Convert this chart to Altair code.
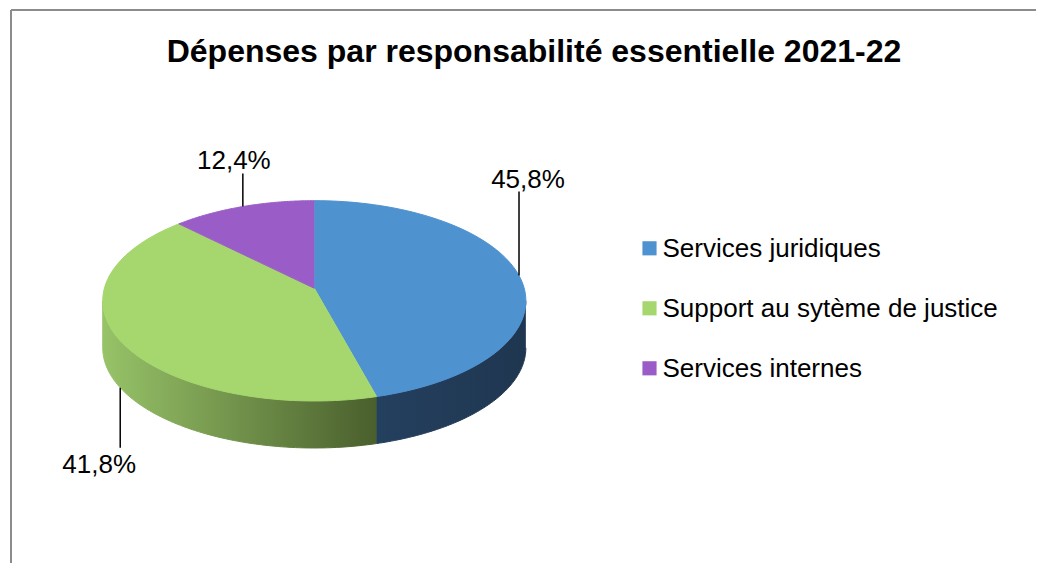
import altair as alt
import pandas as pd

# ---------------- data ----------------
TITLE = "Dépenses par responsabilité essentielle 2021-22"
categories = ["Services juridiques", "Support au sytème de justice", "Services internes"]
values = [45.8, 41.8, 12.4]

# ---------------- styles ----------------
top_colors = ["#4E92D0", "#A5D76E", "#9A5CC6"]
side_colors = [["#24405F", "#1F3650"], ["#97C368", "#4A5F2D"], ["#8A50B5", "#4A2A66"]]
# label layout per slice: leader length, text dx, text gap from leader end, attach to bottom rim
label_layout = [(-84, 9, -4, 0), (60, -21, 25, 1), (-33, -9, -5, 0)]

FONT = "Liberation Sans"
CX, CY, RX, RY, K, DEPTH, N = 314.3, 288.3, 209.9, 98.6, 0.125, 47, 90
W, H = 1028, 555

df = pd.DataFrame({"category": categories, "value": values,
                   "order": list(range(len(categories)))})

xs = alt.Scale(domain=[8, 8 + W], nice=False, zero=False)
ys = alt.Scale(domain=[8, 8 + H], nice=False, zero=False, reverse=True)


def proj_x(t, r="1"):
    return f"{CX} + {RX}*({r})*sin({t})/(1 + {K}*cos({t}))"


def proj_y(t, r="1"):
    return f"{CY} - {RY}*({r})*cos({t})/(1 + {K}*cos({t}))"


def grad(c0, c1):
    return alt.LinearGradient(gradient="linear",
                              stops=[alt.GradientStop(color=c0, offset=0),
                                     alt.GradientStop(color=c1, offset=1)],
                              x1=0, x2=1, y1=0, y2=0)


base = (alt.Chart(df)
        .transform_joinaggregate(total="sum(value)")
        .transform_window(cum="sum(value)", sort=[alt.SortField("order")])
        .transform_calculate(a0="2*PI*(datum.cum - datum.value)/datum.total")
        .transform_calculate(a1="2*PI*datum.cum/datum.total")
        .transform_calculate(mid="(datum.a0 + datum.a1)/2"))

X = lambda f: alt.X(f, scale=xs, axis=None)
Y = lambda f: alt.Y(f, scale=ys, axis=None)

layers = []

# border of chart area
one = alt.Chart(pd.DataFrame({"a": [0]}))
layers.append(one.mark_rule(color="#8C8C8C", strokeWidth=2).encode(
    x=alt.value(3), y=alt.value(2), y2=alt.value(H)))
layers.append(one.mark_rule(color="#8C8C8C", strokeWidth=2).encode(
    x=alt.value(3), x2=alt.value(W), y=alt.value(2)))

# sides of the pie (visible front wall)
for i, cat in enumerate(categories):
    g = grad(*side_colors[i])
    side = (base.transform_filter(alt.datum.category == cat)
            .transform_calculate(s0=f"max(datum.a0, acos(-{K}))")
            .transform_calculate(s1=f"min(datum.a1, 2*PI - acos(-{K}))")
            .transform_filter("datum.s1 > datum.s0")
            .transform_calculate(k=f"sequence(0, {2 * N + 2})")
            .transform_flatten(["k"])
            .transform_calculate(kk=f"datum.k <= {N} ? datum.k : {2 * N + 1} - datum.k")
            .transform_calculate(t=f"datum.s0 + (datum.s1 - datum.s0)*datum.kk/{N}")
            .transform_calculate(px=proj_x("datum.t"))
            .transform_calculate(py=proj_y("datum.t") + f" + (datum.k > {N} ? {DEPTH} : 0)")
            .mark_line(fill=g, stroke=g, strokeWidth=1, interpolate="linear")
            .encode(x=X("px:Q"), y=Y("py:Q"), order="k:Q"))
    layers.append(side)

# top faces
for i, cat in enumerate(categories):
    top = (base.transform_filter(alt.datum.category == cat)
           .transform_calculate(k=f"sequence(-1, {N + 1})")
           .transform_flatten(["k"])
           .transform_calculate(t=f"datum.a0 + (datum.a1 - datum.a0)*max(datum.k, 0)/{N}")
           .transform_calculate(r="datum.k < 0 ? 0 : 1")
           .transform_calculate(px=proj_x("datum.t", "datum.r"))
           .transform_calculate(py=proj_y("datum.t", "datum.r"))
           .mark_line(fill=top_colors[i], stroke=top_colors[i], strokeWidth=1, interpolate="linear")
           .encode(x=X("px:Q"), y=Y("py:Q"), order="k:Q"))
    layers.append(top)

# leader lines and data labels
for i, cat in enumerate(categories):
    lead, dx, gap, bottom = label_layout[i]
    lab = (base.transform_filter(alt.datum.category == cat)
           .transform_calculate(ax=proj_x("datum.mid"))
           .transform_calculate(ay=proj_y("datum.mid") + f" + {bottom * DEPTH}")
           .transform_calculate(ay2=f"datum.ay + {lead}")
           .transform_calculate(tx=f"datum.ax + {dx}")
           .transform_calculate(ty=f"datum.ay2 + {gap}")
           .transform_calculate(label="replace(format(datum.value, '.1f'), '.', ',') + '%'"))
    layers.append(lab.mark_rule(color="#000000", strokeWidth=1.5).encode(
        x=X("ax:Q"), y=Y("ay:Q"), y2="ay2:Q"))
    layers.append(lab.mark_text(font=FONT, fontSize=26, align="center",
                                baseline="alphabetic", color="#000000").encode(
        x=X("tx:Q"), y=Y("ty:Q"), text="label:N"))

# legend
leg = base.transform_calculate(ly="248.3 + 60*datum.order").transform_calculate(lb="datum.ly + 8.6")
layers.append(leg.mark_square(size=200, opacity=1, filled=True).encode(
    x=alt.value(641.5), y=Y("ly:Q"),
    color=alt.Color("category:N", scale=alt.Scale(domain=categories, range=top_colors), legend=None)))
layers.append(leg.mark_text(font=FONT, fontSize=26, align="left", baseline="alphabetic",
                            color="#000000").encode(
    x=alt.value(654.5), y=Y("lb:Q"), text="category:N"))

# title
layers.append(one.mark_text(font=FONT, fontSize=32, fontWeight="bold", align="center",
                            baseline="alphabetic", color="#000000").encode(
    x=alt.value(526), y=alt.value(54), text=alt.value(TITLE)))

chart = (alt.layer(*layers)
         .properties(width=W, height=H, padding=0,
                     autosize=alt.AutoSizeParams(type="none"), background="#FFFFFF")
         .configure_view(stroke=None))

chart.save("out.html", embed_options={"renderer": "svg", "actions": False})
